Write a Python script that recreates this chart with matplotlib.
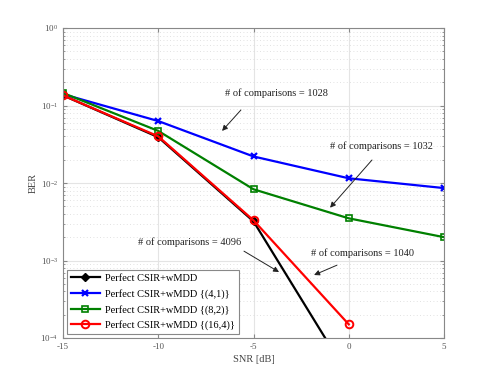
import matplotlib
matplotlib.use("Agg")
import matplotlib.pyplot as plt
import numpy as np

plt.rcParams['font.family'] = ['Liberation Serif', 'DejaVu Serif']
plt.rcParams['mathtext.fontset'] = 'stix'

snr = [-15, -10, -5, 0, 5]
ber_full = [0.135, 0.039, 0.0032, 3.2e-5]
ber_41 = [0.14, 0.063, 0.022, 0.0115, 0.0086]
ber_82 = [0.145, 0.047, 0.0083, 0.0035, 0.002]
ber_164 = [0.135, 0.040, 0.0033, 1.5e-4]

labels = ["Perfect CSIR+wMDD",
          "Perfect CSIR+wMDD {(4,1)}",
          "Perfect CSIR+wMDD {(8,2)}",
          "Perfect CSIR+wMDD {(16,4)}"]

fig = plt.figure(figsize=(4.91, 3.8), dpi=100)
ax = fig.add_axes([63/491, 1-338/380, (444-63)/491, (338-28)/380])

ax.semilogy(snr[:4], ber_full, color='black', lw=1.6, marker='D', ms=4,
            mfc='black', label=labels[0])
ax.semilogy(snr, ber_41, color='blue', lw=1.6, marker='x', ms=5, mew=1.6,
            label=labels[1])
ax.semilogy(snr, ber_82, color='green', lw=1.6, marker='s', ms=4.5,
            mfc='none', mew=1.2, label=labels[2])
ax.semilogy(snr[:4], ber_164, color='red', lw=1.6, marker='o', ms=5.5,
            mfc='none', mew=1.4, label=labels[3])

ax.set_xlim(-15, 5)
ax.set_ylim(1e-4, 1)
ax.set_xticks(snr)
ax.set_xticklabels([str(s) for s in snr])
ax.grid(True, which='major', color='#e4e4e4', lw=0.8, ls='-')
ax.grid(True, which='minor', color='#d8d8d8', lw=0.6, ls=(0, (1, 3)))
ax.set_axisbelow(True)
for s in ax.spines.values():
    s.set_color('#888888')
ax.tick_params(which='both', colors='#888888', labelcolor='#555555',
               labelsize=6.5, direction='in', top=True, right=True)
ax.tick_params(which='major', length=3)
ax.tick_params(which='minor', length=1.5)
ax.set_xlabel("SNR [dB]", fontsize=7.5, color='#444444', labelpad=3)
ax.set_ylabel("BER", fontsize=7.5, color='#444444', labelpad=2)

ann = dict(fontsize=7.5, color='#222222', ha='center', va='center')
arr = dict(arrowstyle='-|>', color='#222222', lw=0.7, mutation_scale=8,
           shrinkA=0, shrinkB=0)
# text and arrows in data coords
ax.annotate("", xy=(-6.65, 0.047), xytext=(-5.66, 0.0875), arrowprops=arr)
ax.text(-3.77, 0.145, "# of comparisons = 1028", **ann)
ax.annotate("", xy=(-0.98, 0.0048), xytext=(1.22, 0.0198), arrowprops=arr)
ax.text(1.69, 0.030, "# of comparisons = 1032", **ann)
ax.annotate("", xy=(-3.66, 7.1e-4), xytext=(-5.5, 1.32e-3), arrowprops=arr)
ax.text(-8.33, 1.73e-3, "# of comparisons = 4096", **ann)
ax.annotate("", xy=(-1.82, 6.5e-4), xytext=(-0.62, 8.7e-4), arrowprops=arr)
ax.text(0.70, 1.25e-3, "# of comparisons = 1040", **ann)

leg = ax.legend(loc='lower left', fontsize=7.5, handlelength=2.8,
                borderaxespad=0.35, fancybox=False, edgecolor='#888888',
                labelspacing=0.55, handletextpad=0.5, framealpha=1)
leg.get_frame().set_linewidth(0.8)

fig.savefig("out.png", dpi=100)
